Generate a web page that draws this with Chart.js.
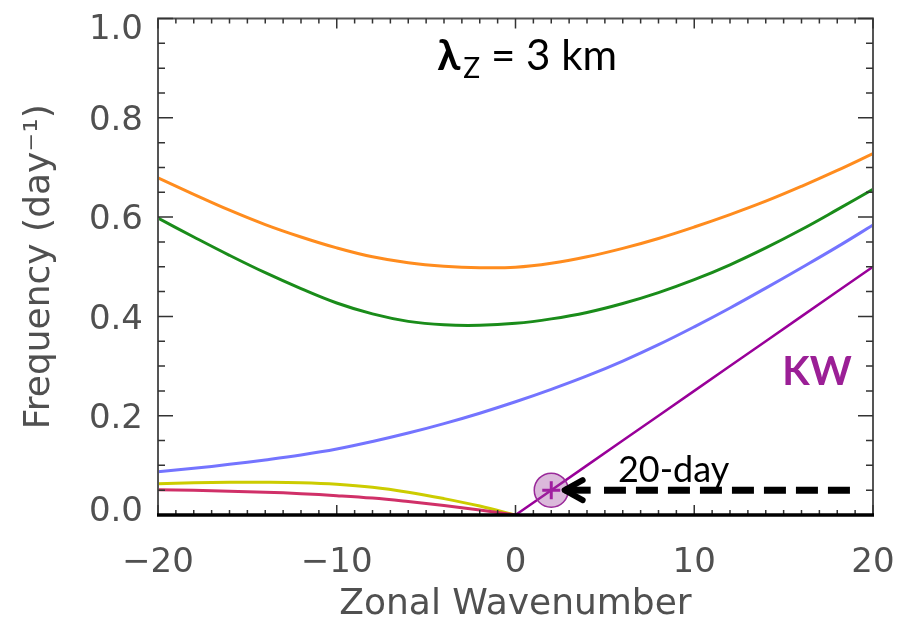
<!DOCTYPE html>
<html><head><meta charset="utf-8">
<script src="https://cdn.jsdelivr.net/npm/chart.js@4.4.0/dist/chart.umd.min.js"></script>
<style>html,body{margin:0;padding:0;background:#fff}#wrap{width:906px;height:624px}</style>
</head><body><div id="wrap"><canvas id="c" width="906" height="624"></canvas></div>
<script>
// ---- data ----
const wavenumbers = [-20,-18,-16,-14,-12,-10,-8,-6,-4,-2,0,2,4,6,8,10,12,14,16,18,20];
const orangeFreq = [0.679,0.646,0.614,0.585,0.560,0.538,0.520,0.508,0.501,0.498,0.499,0.507,0.520,0.537,0.557,0.580,0.605,0.632,0.662,0.694,0.728];
const greenFreq  = [0.598,0.560,0.523,0.488,0.456,0.427,0.405,0.390,0.383,0.382,0.386,0.395,0.408,0.426,0.448,0.474,0.504,0.538,0.575,0.615,0.656];
const blueFreq   = [0.087,0.094,0.102,0.111,0.121,0.133,0.148,0.165,0.184,0.205,0.228,0.253,0.280,0.310,0.343,0.379,0.417,0.457,0.498,0.540,0.584];
const yellowFreq = [0.063,0.065,0.066,0.066,0.065,0.062,0.056,0.046,0.033,0.018,0.000,null,null,null,null,null,null,null,null,null,null];
const redFreq    = [0.051,0.050,0.048,0.046,0.043,0.039,0.034,0.027,0.019,0.010,0.000,null,null,null,null,null,null,null,null,null,null];
const kelvinFreq = [null,null,null,null,null,null,null,null,null,null,0.00,0.05,0.10,0.15,0.20,0.25,0.30,0.35,0.40,0.45,0.50];
const xTickValues = [-20,-10,0,10,20];
const yTickValues = [0.0,0.2,0.4,0.6,0.8,1.0];
const markerK = 2, markerFreq = 0.05;         // 20-day Kelvin wave point
const dashFromK = 18.71, dashToK = 4.95, arrowTipK = 2.75;

const pts = vals => wavenumbers.map((k,i)=>({x:k, y:vals[i]}));
const curve = (vals, color, w) => ({type:'line', data: pts(vals), borderColor: color, borderWidth: w,
  pointRadius:0, tension:0.4, spanGaps:false, fill:false});

const TICKFONT = 'DejaVu Sans';
const GRAY = '#505050';

const framePlugin = {
  id:'frame',
  afterDatasetsDraw(chart){
    const {ctx, chartArea:{left,right,top,bottom}, scales:{x,y}} = chart;
    ctx.save();
    ctx.lineCap='butt';
    ctx.strokeStyle='#555'; ctx.lineWidth=2;
    ctx.beginPath();
    ctx.moveTo(left, bottom); ctx.lineTo(left, top); ctx.lineTo(right, top); ctx.lineTo(right, bottom);
    ctx.stroke();
    ctx.strokeStyle='#333'; ctx.lineWidth=1.5;
    ctx.beginPath();
    for (let k=-20;k<=20;k++){
      const px = x.getPixelForValue(k);
      const len = (k%10===0)?10:5;
      ctx.moveTo(px,bottom); ctx.lineTo(px,bottom-len);
      ctx.moveTo(px,top); ctx.lineTo(px,top+len);
    }
    for (let i=0;i<=20;i++){
      const py = y.getPixelForValue(i*0.05);
      const len = (i%4===0)?15:7;
      ctx.moveTo(left,py); ctx.lineTo(left+len,py);
      ctx.moveTo(right,py); ctx.lineTo(right-len,py);
    }
    ctx.stroke();
    ctx.strokeStyle='#000'; ctx.lineWidth=3.5;
    ctx.beginPath(); ctx.moveTo(left-1,bottom); ctx.lineTo(right+1,bottom); ctx.stroke();
    ctx.restore();
  },
  afterDraw(chart){
    const {ctx, scales:{x,y}} = chart;
    ctx.save();
    // arrow head + shaft
    const tx = x.getPixelForValue(arrowTipK), ty = y.getPixelForValue(markerFreq);
    ctx.strokeStyle='#000'; ctx.lineWidth=6; ctx.lineCap='round'; ctx.lineJoin='round';
    ctx.beginPath();
    ctx.moveTo(tx+18, ty-10); ctx.lineTo(tx, ty); ctx.lineTo(tx+18, ty+10);
    ctx.stroke();
    ctx.lineCap='butt'; ctx.lineWidth=7;
    ctx.beginPath(); ctx.moveTo(tx, ty); ctx.lineTo(tx+26, ty); ctx.stroke();
    // title
    const cx = x.getPixelForValue(0.65), base = y.getPixelForValue(0.896);
    ctx.fillStyle='#000'; ctx.textBaseline='alphabetic'; ctx.textAlign='left';
    const fBig = '42px Lato, "Noto Sans", sans-serif';
    const fLam = 'bold 42px Lato, "Noto Sans", sans-serif';
    const fSub = '28px Lato, "Noto Sans", sans-serif';
    ctx.font=fLam; const wL = ctx.measureText('λ').width;
    ctx.font=fSub; const wZ = ctx.measureText('Z').width;
    ctx.font=fBig; const wR = ctx.measureText(' = 3 km').width;
    let sx = cx - (wL+3+wZ+wR)/2;
    ctx.font=fLam; ctx.fillText('λ', sx, base);
    ctx.font=fSub; ctx.fillText('Z', sx+wL+3, base+8);
    ctx.font=fBig; ctx.fillText(' = 3 km', sx+wL+3+wZ, base);
    // KW label
    ctx.font='bold 40px Lato, "Noto Sans", sans-serif'; ctx.fillStyle='#9b1f96'; ctx.textAlign='center';
    ctx.fillText('KW', x.getPixelForValue(16.87), y.getPixelForValue(0.261));
    // 20-day label
    ctx.font='36px Lato, "Noto Sans", sans-serif'; ctx.fillStyle='#000'; ctx.textAlign='left';
    ctx.fillText('20-day', x.getPixelForValue(5.73), y.getPixelForValue(0.067));
    ctx.restore();
  }
};

new Chart(document.getElementById('c'), {
  data: {
    datasets: [
      {type:'scatter', data:[{x:markerK,y:markerFreq}], pointStyle:'cross', pointRadius:9,
       pointBorderColor:'#a01fa0', pointBorderWidth:3, order:0},
      {type:'scatter', data:[{x:markerK,y:markerFreq}], pointStyle:'circle', pointRadius:17,
       pointBackgroundColor:'rgba(160,70,160,0.38)', pointBorderColor:'#9a2a9a', pointBorderWidth:1.5, order:1},
      {type:'line', data:[{x:dashFromK,y:markerFreq},{x:dashToK,y:markerFreq}], borderColor:'#000',
       borderWidth:7, borderDash:[22,10], pointRadius:0, borderCapStyle:'butt', order:2},
      Object.assign(curve(kelvinFreq,'#990099',2.5),{order:3, tension:0}),
      Object.assign(curve(yellowFreq,'#cccc00',3),{order:5}),
      Object.assign(curve(redFreq,'#d03068',3),{order:4}),
      Object.assign(curve(blueFreq,'#7474ff',3),{order:6}),
      Object.assign(curve(greenFreq,'#1a8c1a',3),{order:7}),
      Object.assign(curve(orangeFreq,'#ff8c1e',3),{order:8})
    ]
  },
  options: {
    responsive:false, animation:false, events:[], devicePixelRatio:1,
    layout:{padding:{left:0,right:33,top:10,bottom:0}},
    plugins:{legend:{display:false}, tooltip:{enabled:false}},
    scales:{
      x:{type:'linear', min:-20, max:20,
        afterBuildTicks: s => { s.ticks = xTickValues.map(v=>({value:v})); },
        ticks:{callback: v => v<0 ? '\u2212'+Math.abs(v) : String(v), font:{family:TICKFONT,size:34},
          color:GRAY, padding:28, maxRotation:0, autoSkip:false},
        grid:{display:false, drawTicks:false}, border:{display:false},
        title:{display:true, text:'Zonal Wavenumber', color:GRAY,
          font:{family:TICKFONT,size:36,lineHeight:1}, padding:{top:0,bottom:1}},
        afterFit: s => { s.height = 109; s.paddingLeft=0; s.paddingRight=0; s.paddingTop=0; s.paddingBottom=0; }
      },
      y:{type:'linear', min:0, max:1,
        afterBuildTicks: s => { s.ticks = yTickValues.map(v=>({value:v})); },
        ticks:{
          callback: v => Math.abs(v-1)<1e-9 ? ['', v.toFixed(1)] : (Math.abs(v)<1e-9 ? [v.toFixed(1), ''] : v.toFixed(1)),
          font: c => {
            const v = c.tick ? c.tick.value : 0.5;
            if (Math.abs(v-1)<1e-9) return {family:TICKFONT,size:34,lineHeight:'17px'};
            if (Math.abs(v)<1e-9) return {family:TICKFONT,size:34,lineHeight:'13px'};
            return {family:TICKFONT,size:34};
          },
          color:GRAY, padding:15, labelOffset:3.5, autoSkip:false},
        grid:{display:false, drawTicks:false}, border:{display:false},
        title:{display:true, text:'Frequency (day\u207B\u00B9)', color:GRAY,
          font:{family:TICKFONT,size:36,lineHeight:1}, padding:{top:22,bottom:0}},
        afterFit: s => { s.width = 158; s.paddingLeft=0; s.paddingRight=0; s.paddingTop=0; s.paddingBottom=0; }
      }
    }
  },
  plugins:[framePlugin]
});
</script></body></html>
